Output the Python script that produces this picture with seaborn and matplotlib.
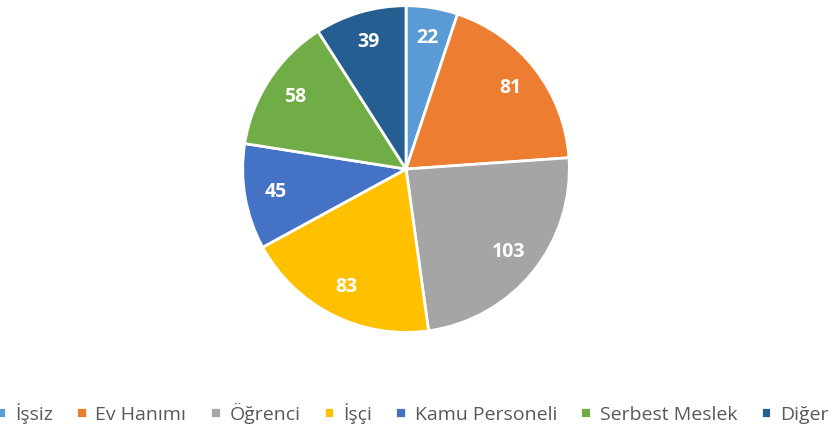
import matplotlib
matplotlib.use("Agg")
import matplotlib.pyplot as plt
import seaborn as sns

sns.set_theme(style="white")
plt.rcParams['font.family'] = ['Open Sans', 'DejaVu Sans']

categories = ['İşsiz', 'Ev Hanımı', 'Öğrenci', 'İşçi', 'Kamu Personeli', 'Serbest Meslek', 'Diğer']
values = [22, 81, 103, 83, 45, 58, 39]
colors = ['#5B9BD5', '#ED7D31', '#A5A5A5', '#FFC000', '#4472C4', '#70AD47', '#255E91']

fig = plt.figure(figsize=(8.34, 4.33), dpi=100)
ax = fig.add_axes([0.289, 0.2286, 0.3957, 0.762])

wedges, _, autotexts = ax.pie(
    values, colors=colors, startangle=90, counterclock=False,
    autopct=lambda p: f"{round(p * sum(values) / 100):d}", pctdistance=0.81,
    wedgeprops=dict(edgecolor='white', linewidth=2),
    textprops=dict(color='white', fontsize=14, fontweight='bold'))
ax.set_aspect('equal')
ax.set_xlim(-1.01, 1.01)
ax.set_ylim(-1.01, 1.01)

fig.legend(wedges, categories, loc='center', bbox_to_anchor=(412 / 834, 1 - 413 / 433),
           ncol=7, frameon=False, fontsize=14, handlelength=0.55, handleheight=0.55,
           handletextpad=0.45, columnspacing=1.2, labelcolor='#595959')

fig.savefig('out.png', dpi=100)
